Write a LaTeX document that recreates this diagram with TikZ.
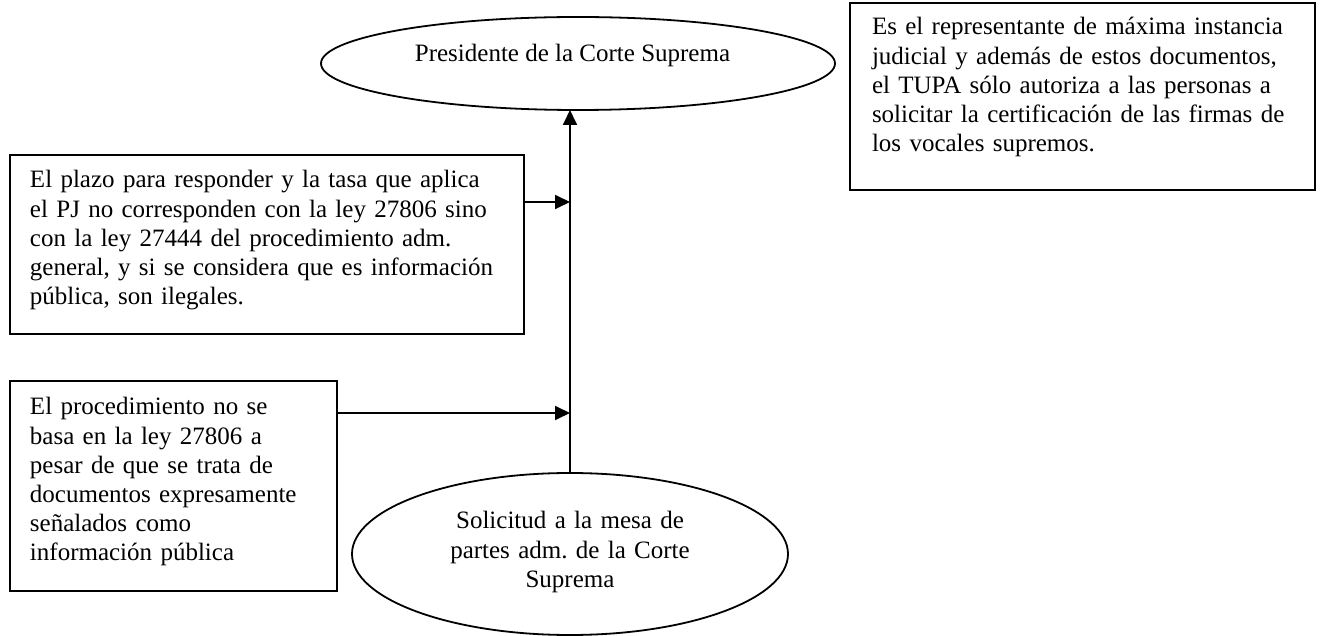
\documentclass[tikz,border=0pt]{standalone}
\usepackage{fontspec}
\setmainfont{Liberation Serif}
\usetikzlibrary{shapes.geometric,arrows.meta}
\begin{document}
\frenchspacing
\begin{tikzpicture}[x=0.5pt,y=-0.5pt,
  every node/.style={inner sep=0pt, outer sep=0pt},
  shp/.style={draw=black, line width=0.9pt},
  txt/.style={font=\fontsize{12.5}{14.6}\selectfont\frenchspacing, align=left},
  arr/.style={draw=black, line width=0.9pt, -{Triangle[length=7.5pt,width=7pt]}}]
\path[fill=white] (0,0) rectangle (1324,636);
\useasboundingbox (0,0) rectangle (1324,636);
% shapes
\node[shp, ellipse, minimum width=257pt, minimum height=46.5pt] (pres) at (578,63.5) {};
\node[txt, anchor=base] (prest) at (572.5,62) {Presidente de la Corte Suprema};

\node[shp, rectangle, minimum width=257pt, minimum height=89.5pt] (b1) at (267,244.5) {};
\node[txt, anchor=base west, text width=300pt] (b1t) at (30,188) {El plazo para responder y la tasa que aplica\\el PJ no corresponden con la ley 27806 sino\\con la ley 27444 del procedimiento adm.\\general, y si se considera que es información\\pública, son ilegales.};

\node[shp, rectangle, minimum width=163.5pt, minimum height=105pt] (b2) at (173.5,486) {};
\node[txt, anchor=base west, text width=200pt] (b2t) at (30,415) {El procedimiento no se\\basa en la ley 27806 a\\pesar de que se trata de\\documentos expresamente\\señalados como\\información pública};

\node[shp, rectangle, minimum width=232.5pt, minimum height=93.5pt] (b3) at (1082.5,96.5) {};
\node[txt, anchor=base west, text width=300pt] (b3t) at (872,35) {Es el representante de máxima instancia\\judicial y además de estos documentos,\\el TUPA sólo autoriza a las personas a\\solicitar la certificación de las firmas de\\los vocales supremos.};

\node[shp, ellipse, minimum width=218pt, minimum height=81pt] (sol) at (570,554) {};
\node[txt, align=center, anchor=base, text width=200pt] (solt) at (570,529) {Solicitud a la mesa de\\partes adm. de la Corte\\Suprema};

% connectors
\coordinate (j1) at (570,202);
\coordinate (j2) at (570,413);
\draw[arr] (sol.north) -- (sol.north |- pres.south);
\draw[arr] (j1 -| b1.east) -- (j1);
\draw[arr] (j2 -| b2.east) -- (j2);
\end{tikzpicture}
\end{document}
